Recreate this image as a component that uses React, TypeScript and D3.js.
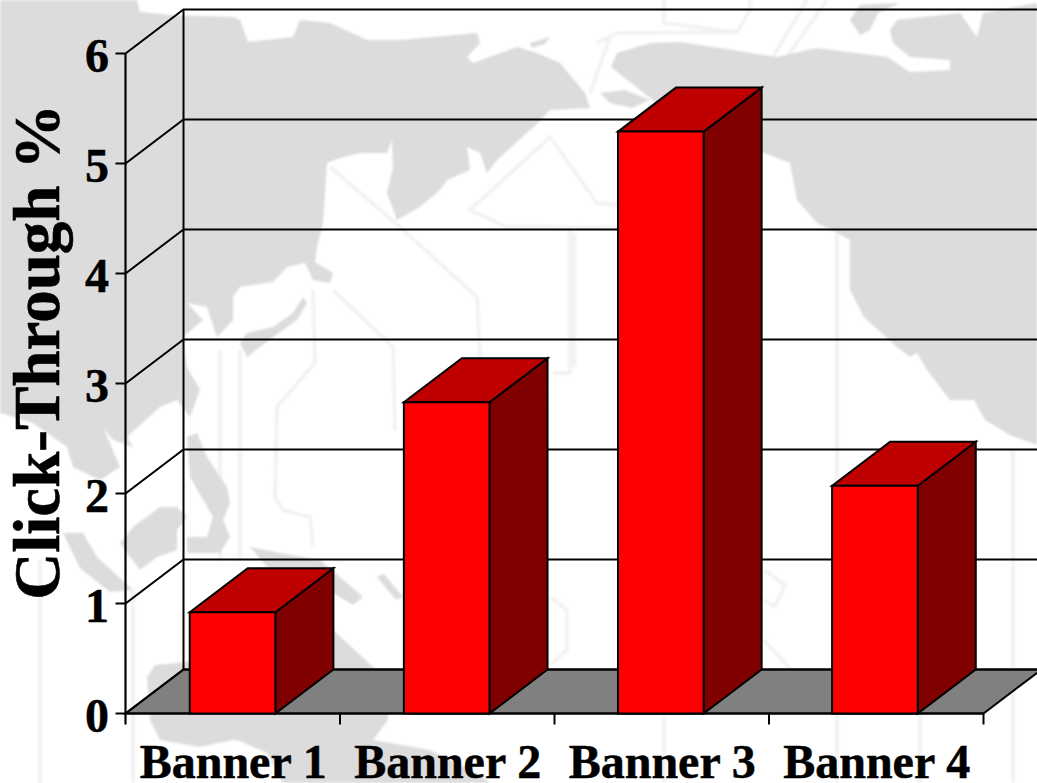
import React from "react";
import * as d3 from "d3";

const categories = ["Banner 1", "Banner 2", "Banner 3", "Banner 4"];
const clickThrough = [0.92, 2.83, 5.29, 2.07];
const yTicks = [0, 1, 2, 3, 4, 5, 6];
const yTitle = "Click-Through %";

type P = [number, number];

// Decorative watermark map behind the chart
const landAsia: P[] = [[0,0],[137,0],[140,12],[170,15],[233,17],[240,20],[248,42],[293,37],[300,20],[330,23],[367,40],[400,40],[477,33],[480,43],[467,57],[473,63],[517,47],[537,53],[560,63],[585,93],[590,108],[550,110],[534,127],[530,130],[497,160],[487,173],[480,153],[467,147],[470,170],[447,180],[440,190],[420,207],[397,220],[387,193],[393,167],[392,140],[387,153],[360,153],[343,157],[327,163],[323,223],[317,247],[315,262],[333,273],[330,283],[313,280],[305,263],[287,267],[273,282],[240,287],[233,297],[233,320],[217,337],[207,307],[187,303],[203,320],[183,337],[187,367],[200,390],[190,417],[177,400],[160,407],[127,437],[133,447],[113,440],[103,427],[120,467],[100,480],[73,467],[67,447],[33,423],[0,413]];
const landJapan: P[] = [[303,297],[307,303],[297,320],[273,337],[247,357],[240,343],[247,333],[273,327],[293,313]];
const landPhilippines: P[] = [[187,437],[197,433],[207,457],[227,487],[230,503],[223,520],[230,537],[220,553],[187,553],[187,537],[207,537],[213,517],[190,477]];
const landBorneo: P[] = [[120,543],[133,527],[160,507],[177,507],[187,517],[177,530],[177,550],[157,557],[140,570],[127,553]];
const landSumatra: P[] = [[63,533],[83,533],[97,557],[120,578],[133,590],[110,592],[80,568]];
const landGuinea: P[] = [[250,547],[280,553],[320,560],[363,597],[353,605],[333,593],[300,580],[267,567]];
const landIslet: P[] = [[377,577],[384,574],[403,597],[396,600]];
const landStrait: P[] = [[600,93],[625,90],[650,100],[632,108],[610,103]];
const landNorth: P[] = [[530,43],[550,37],[545,44],[532,48]];
const landAustralia: P[] = [[147,677],[155,665],[187,662],[275,615],[333,630],[373,667],[388,680],[388,720],[373,740],[430,750],[480,775],[490,783],[283,783],[277,770],[267,753],[240,741],[233,740],[200,747],[160,740],[150,720]];
const landEast: P[] = [[611,67],[617,53],[650,43],[680,42],[720,48],[777,57],[817,48],[887,57],[910,72],[950,70],[950,60],[910,57],[893,43],[890,30],[897,20],[960,13],[977,37],[983,13],[1037,3],[1037,445],[1010,435],[985,420],[974,400],[950,400],[927,370],[917,353],[910,357],[897,347],[864,317],[850,290],[850,240],[837,233],[817,223],[797,200],[790,163],[764,153],[720,153],[640,90]];
const landCape: P[] = [[850,20],[860,5],[900,3],[878,13],[870,30],[860,35]];
const landMasses = [landAsia, landJapan, landPhilippines, landBorneo, landSumatra, landGuinea, landIslet, landStrait, landNorth, landAustralia, landEast, landCape];

const traces: P[][] = [
  [[330,167],[400,227],[477,297],[480,357],[480,420]],
  [[313,290],[315,363],[277,407],[275,497],[283,510],[310,517],[313,547]],
  [[333,290],[393,347],[395,430]],
  [[617,205],[597,203],[550,137],[470,210],[507,227],[617,228]],
  [[570,230],[570,373],[553,373]],
  [[574,233],[574,367]],
  [[837,233],[837,783]],
  [[920,560],[920,783]],
  [[1013,450],[1013,783]],
  [[40,560],[40,783]],
  [[133,590],[133,783]],
  [[220,350],[220,560]],
  [[240,350],[240,560]],
  [[664,0],[664,23],[737,32],[750,10],[750,0]],
  [[597,43],[617,33],[737,32]],
  [[610,37],[590,93]],
  [[787,57],[827,0]],
  [[773,57],[807,0]],
  [[664,717],[664,783]],
  [[764,570],[785,585],[775,607],[764,600]],
  [[550,597],[567,610],[567,650],[550,665]],
  [[764,640],[800,680],[810,700]],
];

const W = 1037;
const H = 783;
const DEPTH_X = 58;
const DEPTH_Y = 44;

const x = d3.scaleBand<string>().domain(categories).range([125.5, 982]).paddingInner(0.6).paddingOuter(0.3);
const y = d3.scaleLinear().domain([0, 6]).range([713.5, 53.5]);
const bx = d3.scaleBand<string>().domain(categories).range([125.5, 983.5]);
const line = d3.line<P>();
const closed = (pts: P[]) => (line(pts) as string) + "Z";
const serif = "'Liberation Serif', 'Times New Roman', serif";

export default function App() {
  const x0 = bx.range()[0];
  const x1 = bx.range()[1];
  const y0 = y(0);
  return (
    <svg width={W} height={H} viewBox={`0 0 ${W} ${H}`} style={{ position: "absolute", left: 0, top: 0, background: "#fff" }}>
      <defs>
        <filter id="soft" x="-2%" y="-2%" width="104%" height="104%">
          <feGaussianBlur stdDeviation="1" />
        </filter>
      </defs>
      <g fill="none" stroke="#f1f1f1" strokeWidth={3.5} filter="url(#soft)">
        {traces.map((t, i) => <path key={i} d={line(t) as string} />)}
      </g>
      <g fill="#dcdcdc" filter="url(#soft)">
        {landMasses.map((m, i) => <path key={i} d={closed(m)} />)}
      </g>

      <path d={closed([[x0, y0], [x1, y0], [x1 + DEPTH_X, y0 - DEPTH_Y], [x0 + DEPTH_X, y0 - DEPTH_Y]])} fill="#808080" stroke="#000" strokeWidth={2} />

      <g stroke="#000" strokeWidth={2} fill="none">
        <path d={line([[x0 + DEPTH_X, y(0) - DEPTH_Y], [x0 + DEPTH_X, y(6) - DEPTH_Y]]) as string} />
        {yTicks.map((t) => (
          <path key={t} d={line([[x0 - 10, y(t)], [x0, y(t)], [x0 + DEPTH_X, y(t) - DEPTH_Y], [W + 10, y(t) - DEPTH_Y]]) as string} />
        ))}
        <path d={line([[x0, y(6)], [x0, y0 + 11]]) as string} strokeWidth={2.2} />
        <path d={line([[x0, y0], [x1, y0]]) as string} strokeWidth={2.2} />
        {categories.map((c) => (
          <path key={c} d={line([[(bx(c) as number) + bx.bandwidth(), y0], [(bx(c) as number) + bx.bandwidth(), y0 + 11]]) as string} />
        ))}
      </g>

      <g stroke="#000" strokeWidth={2} strokeLinejoin="miter">
        {categories.map((c, i) => {
          const l = x(c) as number;
          const r = l + x.bandwidth();
          const t = y(clickThrough[i]);
          return (
            <g key={c}>
              <path fill="#800000" d={closed([[r, t], [r + DEPTH_X, t - DEPTH_Y], [r + DEPTH_X, y0 - DEPTH_Y], [r, y0]])} />
              <path fill="#bf0000" d={closed([[l, t], [l + DEPTH_X, t - DEPTH_Y], [r + DEPTH_X, t - DEPTH_Y], [r, t]])} />
              <path fill="#ff0000" d={closed([[l, t], [r, t], [r, y0], [l, y0]])} />
            </g>
          );
        })}
      </g>

      <g fontFamily={serif} fontWeight="bold" fontSize={48} fill="#000" stroke="#000" strokeWidth={0.5}>
        {yTicks.map((t) => (
          <text key={t} x={109} y={y(t) + 18} textAnchor="end">{t}</text>
        ))}
        {categories.map((c) => (
          <text key={c} x={(bx(c) as number) + bx.bandwidth() / 2 + 0.5} y={778} textAnchor="middle">{c}</text>
        ))}
      </g>
      <text transform="translate(59,352) rotate(-90)" textAnchor="middle" fontFamily={serif} fontWeight="bold" fontSize={65} fill="#000" stroke="#000" strokeWidth={0.6}>{yTitle}</text>
    </svg>
  );
}
